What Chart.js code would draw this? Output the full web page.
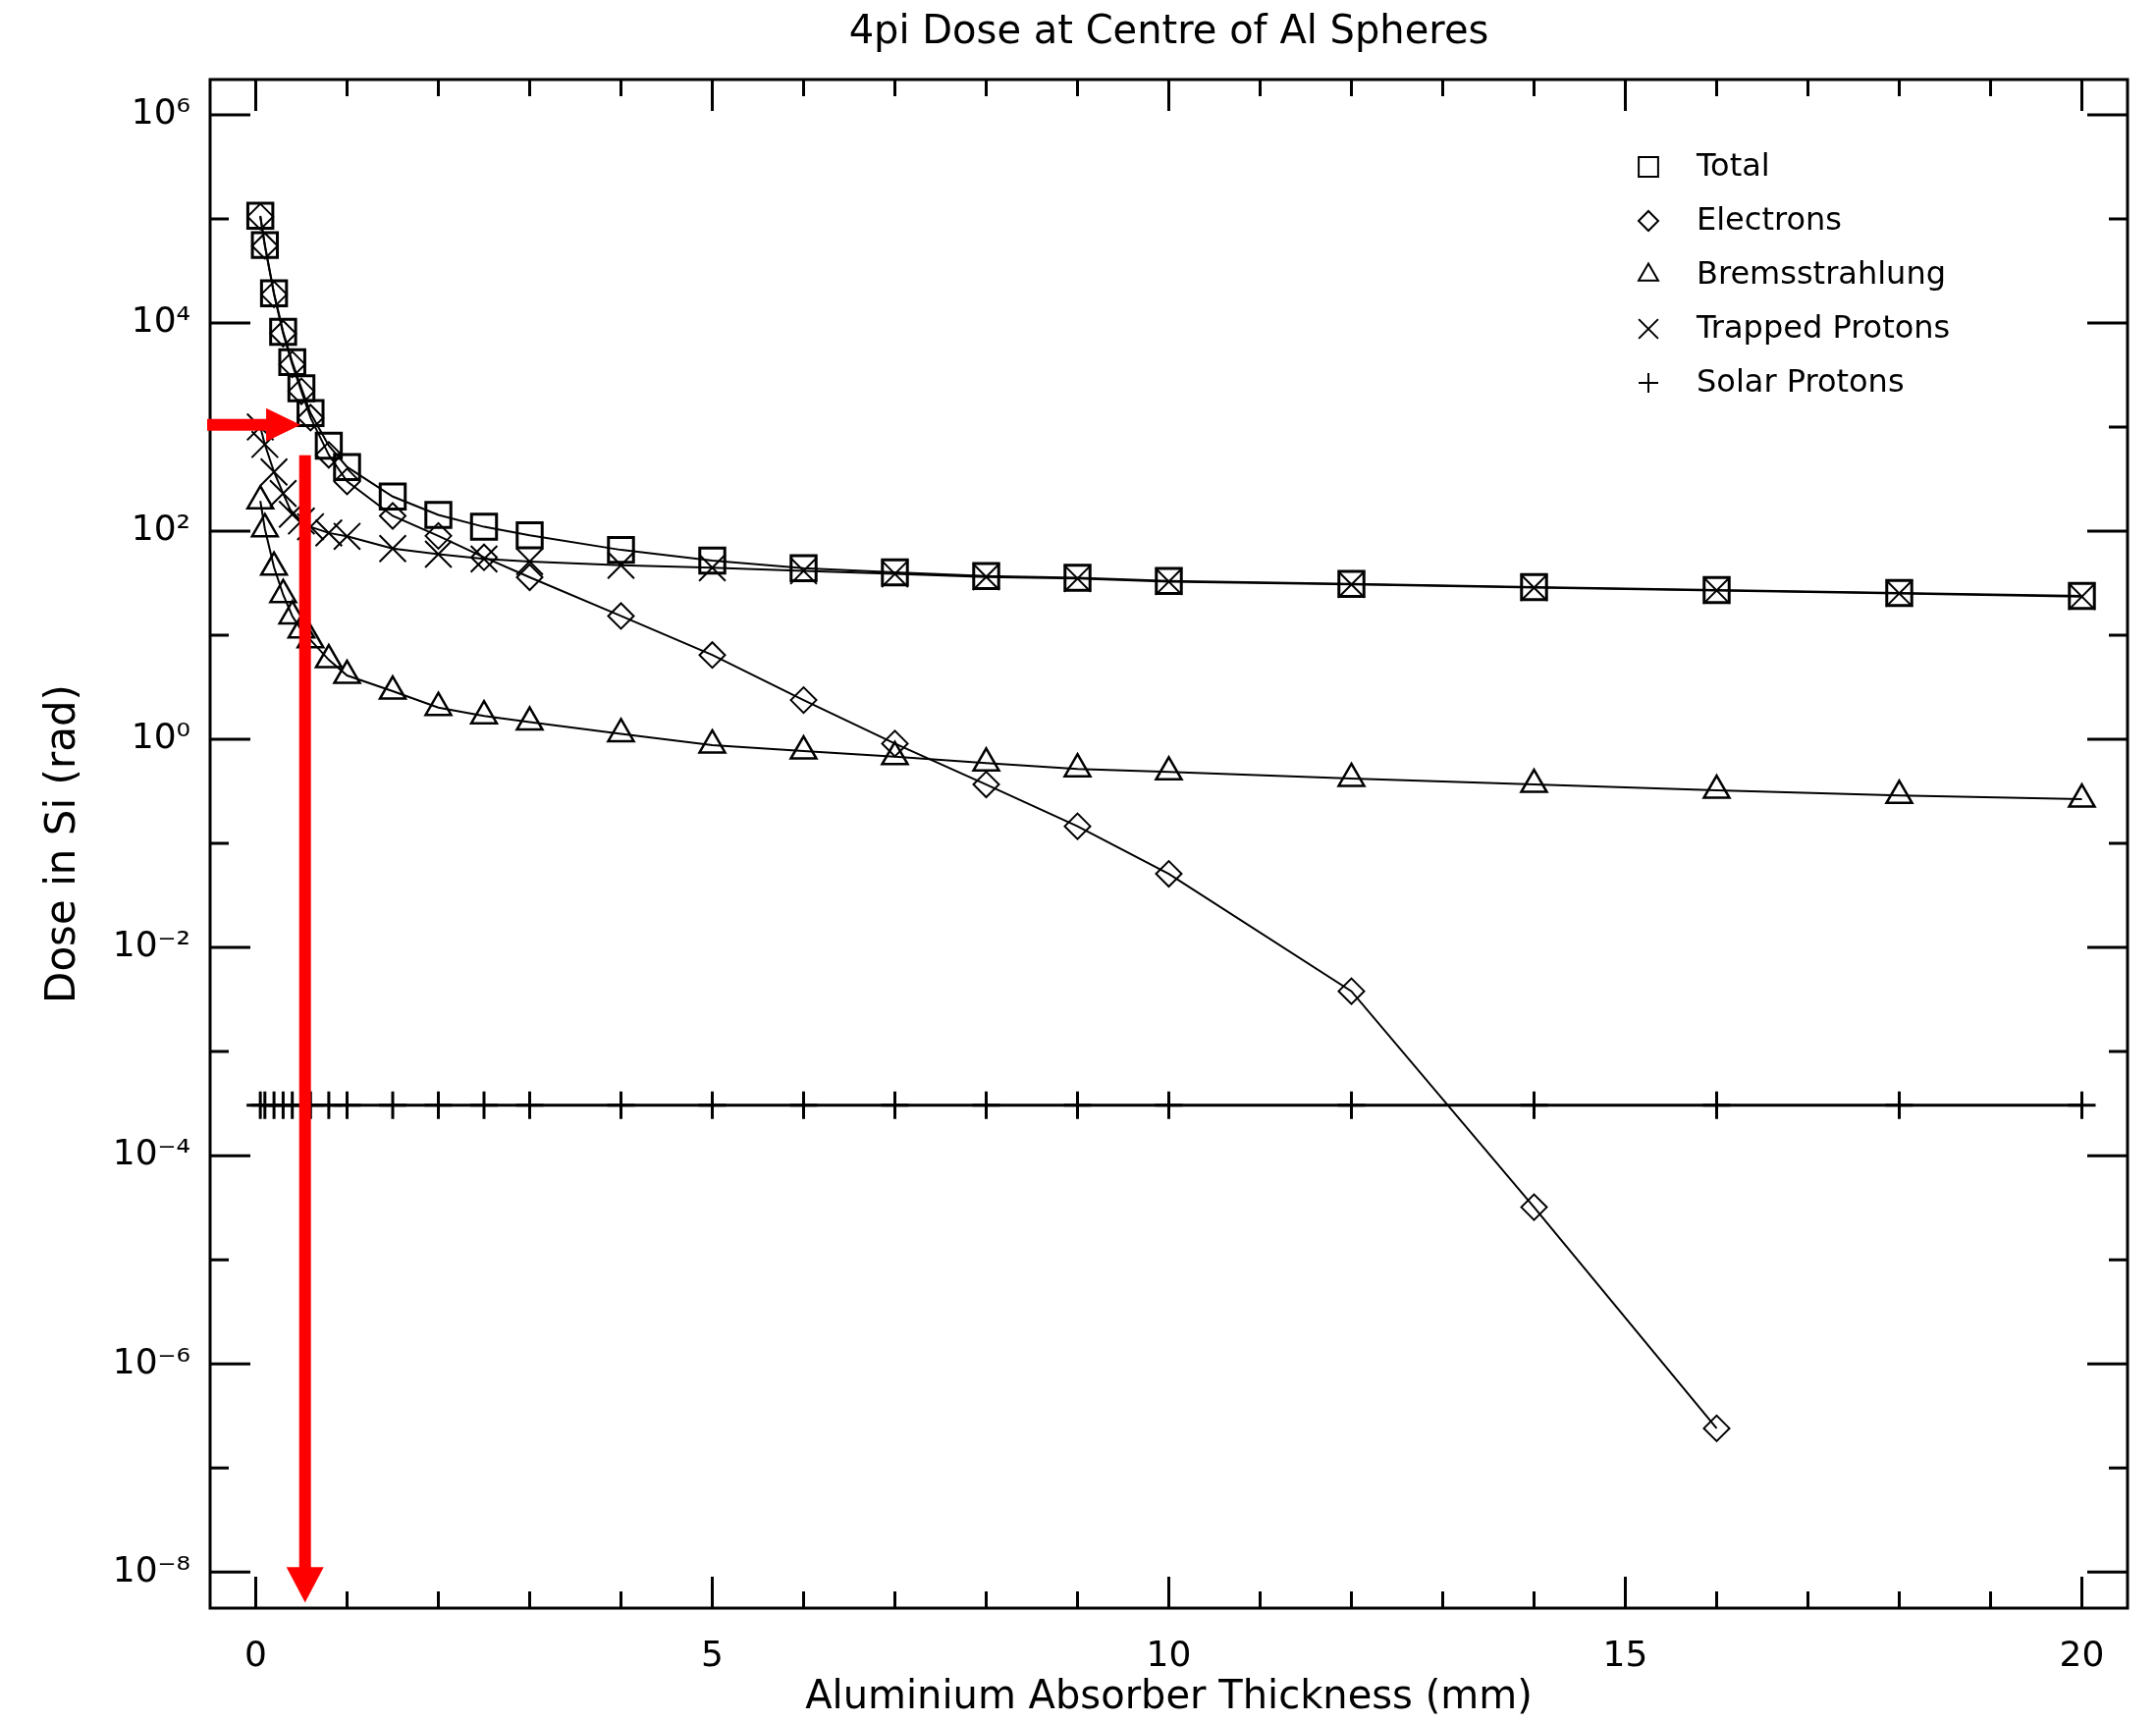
<!DOCTYPE html>
<html lang="en">
<head>
    <meta charset="UTF-8">
    <title>4pi Dose at Centre of Al Spheres</title>
    <script src="https://cdn.jsdelivr.net/npm/chart.js"></script>
    <style>
        body {
            margin: 0;
            padding: 0;
            background: #ffffff;
        }

        .chart-box {
            width: 2196px;
            height: 1754px;
        }
    </style>
</head>
<body>
    <div class="chart-box">
        <canvas id="doseChart" width="2196" height="1754"></canvas>
    </div>

    <script>
        // Al shielding depths (mm)
        const thickness = [0.05, 0.1, 0.2, 0.3, 0.4, 0.5, 0.6, 0.8, 1.0, 1.5, 2.0, 2.5, 3.0,
            4.0, 5.0, 6.0, 7.0, 8.0, 9.0, 10.0, 12.0, 14.0, 16.0, 18.0, 20.0];

        // dose in Si (rad)
        const totalDose = [1.07e5, 5.6e4, 1.93e4, 8.2e3, 4.2e3, 2.36e3, 1.36e3, 661, 413, 215, 143, 110, 91,
            66, 52, 44, 40.2, 37, 35.7, 33.2, 31.1, 29, 27.2, 25.5, 23.8];
        const electronDose = [1.05e5, 5.5e4, 1.88e4, 7.9e3, 4.0e3, 2.2e3, 1.23e3, 540, 300, 140, 90, 56, 36,
            15.3, 6.45, 2.38, 0.91, 0.368, 0.146, 0.051, 3.8e-3, 3.2e-5, 2.4e-7, null, null];
        const bremsDose = [195, 105, 45, 24.5, 15.3, 11.2, 9.0, 5.8, 4.1, 2.9, 2.02, 1.68, 1.46,
            1.13, 0.88, 0.77, 0.68, 0.59, 0.52, 0.486, 0.42, 0.368, 0.323, 0.288, 0.266];
        const trappedDose = [1.0e3, 680, 370, 230, 145, 125, 110, 96, 89, 68, 60, 54, 51,
            47, 44.5, 41.5, 38.8, 36.3, 35, 32.7, 30.7, 28.6, 26.9, 25.2, 23.5];
        const solarDose = [3.05e-4, 3.05e-4, 3.05e-4, 3.05e-4, 3.05e-4, 3.05e-4, 3.05e-4, 3.05e-4, 3.05e-4,
            3.05e-4, 3.05e-4, 3.05e-4, 3.05e-4, 3.05e-4, 3.05e-4, 3.05e-4, 3.05e-4, 3.05e-4, 3.05e-4,
            3.05e-4, 3.05e-4, 3.05e-4, 3.05e-4, 3.05e-4, 3.05e-4];

        // axes
        const xMajorTicks = [0, 5, 10, 15, 20];
        const xMinorTicks = [1, 2, 3, 4, 6, 7, 8, 9, 11, 12, 13, 14, 16, 17, 18, 19];
        const yMajorTicks = [1e6, 1e4, 1e2, 1, 1e-2, 1e-4, 1e-6, 1e-8];
        const yTickLabels = ['10\u2076', '10\u2074', '10\u00b2', '10\u2070', '10\u207b\u00b2', '10\u207b\u2074', '10\u207b\u2076', '10\u207b\u2078'];
        const yMinorTicks = [1e5, 1e3, 10, 0.1, 1e-3, 1e-5, 1e-7];

        // red pointer drawn over the plot (thickness in mm, dose in rad)
        const pointerDose = 1.05e3;
        const pointerTipThickness = 0.49;
        const pointerThickness = 0.54;
        const pointerTopDose = 536;
        const pointerBottomDose = 5.1e-9;

        const FONT = "'DejaVu Sans', 'Liberation Sans', sans-serif";

        function makePoints(values) {
            return thickness.map((t, i) => ({ x: t, y: values[i] }));
        }

        // box around the plot with ticks pointing inwards on all four sides
        const frameAndTicks = {
            id: 'frameAndTicks',
            beforeDatasetsDraw(chart) {
                const { ctx, chartArea: a, scales: { x, y } } = chart;
                ctx.save();
                ctx.strokeStyle = '#000000';
                ctx.lineWidth = 3;
                ctx.strokeRect(a.left, a.top, a.right - a.left, a.bottom - a.top);

                ctx.beginPath();
                const xTick = (v, len) => {
                    const px = x.getPixelForValue(v);
                    ctx.moveTo(px, a.top); ctx.lineTo(px, a.top + len);
                    ctx.moveTo(px, a.bottom); ctx.lineTo(px, a.bottom - len);
                };
                const yTick = (v, len) => {
                    const py = y.getPixelForValue(v);
                    ctx.moveTo(a.left, py); ctx.lineTo(a.left + len, py);
                    ctx.moveTo(a.right, py); ctx.lineTo(a.right - len, py);
                };
                xMajorTicks.forEach(v => xTick(v, 32));
                xMinorTicks.forEach(v => xTick(v, 17));
                yMajorTicks.forEach(v => yTick(v, 41));
                yMinorTicks.forEach(v => yTick(v, 19));
                ctx.stroke();
                ctx.restore();
            }
        };

        // legend in the top right corner, inside the box
        const insideLegend = {
            id: 'insideLegend',
            afterDatasetsDraw(chart) {
                const { ctx, chartArea: a } = chart;
                const markX = a.right - 488;
                ctx.save();
                ctx.font = '32px ' + FONT;
                ctx.textBaseline = 'middle';
                ctx.textAlign = 'left';
                chart.data.datasets.forEach((ds, i) => {
                    const rowY = a.top + 89 + i * 55;
                    ctx.strokeStyle = '#000000';
                    ctx.fillStyle = 'rgba(0,0,0,0)';
                    ctx.lineWidth = 2;
                    Chart.helpers.drawPoint(ctx, {
                        pointStyle: ds.pointStyle,
                        radius: ds.legendRadius,
                        rotation: 0,
                        borderWidth: 2
                    }, markX, rowY);
                    ctx.fillStyle = '#000000';
                    ctx.fillText(ds.label, markX + 49, rowY + 1);
                });
                ctx.restore();
            }
        };

        const pointerArrows = {
            id: 'pointerArrows',
            afterDraw(chart) {
                const { ctx, chartArea: a, scales: { x, y } } = chart;
                ctx.save();
                ctx.fillStyle = '#ff0000';

                const hy = y.getPixelForValue(pointerDose);
                const hx = x.getPixelForValue(pointerTipThickness);
                ctx.fillRect(a.left - 3, hy - 6, hx - 34 - (a.left - 3), 12);
                ctx.beginPath();
                ctx.moveTo(hx - 35, hy - 17);
                ctx.lineTo(hx, hy);
                ctx.lineTo(hx - 35, hy + 17);
                ctx.closePath();
                ctx.fill();

                const vx = x.getPixelForValue(pointerThickness);
                const vTop = y.getPixelForValue(pointerTopDose);
                const vTip = y.getPixelForValue(pointerBottomDose);
                ctx.fillRect(vx - 6, vTop, 12, vTip - 35 - vTop);
                ctx.beginPath();
                ctx.moveTo(vx - 19, vTip - 36);
                ctx.lineTo(vx, vTip);
                ctx.lineTo(vx + 19, vTip - 36);
                ctx.closePath();
                ctx.fill();
                ctx.restore();
            }
        };

        const lineStyle = {
            borderColor: '#000000',
            borderWidth: 2,
            pointBorderColor: '#000000',
            pointBackgroundColor: 'rgba(0,0,0,0)',
            tension: 0,
            fill: false,
            spanGaps: false
        };

        const doseChart = new Chart(document.getElementById('doseChart').getContext('2d'), {
            type: 'line',
            data: {
                datasets: [
                    { ...lineStyle, label: 'Total', data: makePoints(totalDose),
                      pointStyle: 'rect', pointRadius: 18, pointBorderWidth: 3, legendRadius: 14 },
                    { ...lineStyle, label: 'Electrons', data: makePoints(electronDose),
                      pointStyle: 'rectRot', pointRadius: 13, pointBorderWidth: 2, legendRadius: 10 },
                    { ...lineStyle, label: 'Bremsstrahlung', data: makePoints(bremsDose),
                      pointStyle: 'triangle', pointRadius: 15, pointBorderWidth: 2.5, legendRadius: 11.5 },
                    { ...lineStyle, label: 'Trapped Protons', data: makePoints(trappedDose),
                      pointStyle: 'crossRot', pointRadius: 19, pointBorderWidth: 2, legendRadius: 14 },
                    { ...lineStyle, label: 'Solar Protons', data: makePoints(solarDose), borderWidth: 3,
                      pointStyle: 'cross', pointRadius: 14, pointBorderWidth: 3, legendRadius: 10 }
                ]
            },
            options: {
                responsive: false,
                animation: false,
                devicePixelRatio: 1,
                events: [],
                layout: {
                    padding: { left: 0, right: 29, top: 0, bottom: 0 }
                },
                plugins: {
                    legend: { display: false },
                    tooltip: { enabled: false },
                    title: {
                        display: true,
                        fullSize: false,
                        text: '4pi Dose at Centre of Al Spheres',
                        color: '#000000',
                        font: { family: FONT, size: 40, weight: 'normal' },
                        padding: { top: 10, bottom: 23 }
                    }
                },
                scales: {
                    x: {
                        type: 'linear',
                        min: -0.5,
                        max: 20.5,
                        bounds: 'data',
                        grid: { display: false },
                        border: { display: false },
                        afterBuildTicks: (scale) => {
                            scale.ticks = xMajorTicks.map(v => ({ value: v }));
                        },
                        afterFit: (scale) => { scale.height = 116; },
                        ticks: {
                            autoSkip: false,
                            maxRotation: 0,
                            padding: 20,
                            color: '#000000',
                            font: { family: FONT, size: 36 },
                            callback: (value) => String(value)
                        },
                        title: {
                            display: true,
                            text: 'Aluminium Absorber Thickness (mm)',
                            color: '#000000',
                            font: { family: FONT, size: 40 },
                            padding: { top: 0, bottom: 0 }
                        }
                    },
                    y: {
                        type: 'logarithmic',
                        min: 4.5e-9,
                        max: 2.18e6,
                        bounds: 'data',
                        grid: { display: false },
                        border: { display: false },
                        afterBuildTicks: (scale) => {
                            scale.ticks = yMajorTicks.map(v => ({ value: v }));
                        },
                        afterFit: (scale) => { scale.width = 214; },
                        ticks: {
                            autoSkip: false,
                            padding: 12,
                            color: '#000000',
                            font: { family: FONT, size: 36 },
                            major: { enabled: false },
                            callback: (value) => yTickLabels[yMajorTicks.indexOf(value)]
                        },
                        title: {
                            display: true,
                            text: 'Dose in Si (rad)',
                            color: '#000000',
                            font: { family: FONT, size: 42 },
                            padding: { top: 40, bottom: 0 }
                        }
                    }
                }
            },
            plugins: [frameAndTicks, insideLegend, pointerArrows]
        });
    </script>
